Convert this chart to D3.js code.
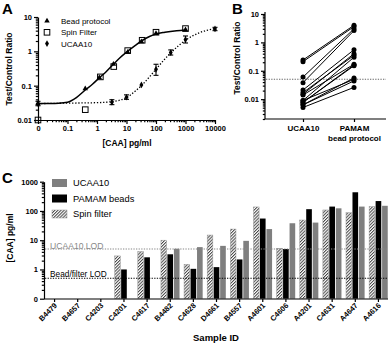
<!DOCTYPE html>
<html>
<head>
<meta charset="utf-8">
<script src="https://cdn.jsdelivr.net/npm/d3@7"></script>
<style>
	body { margin: 0; background: #fff; }
	svg { display: block; font-family: "Liberation Sans", Arial, sans-serif; }
	.axis path, .axis line { stroke: #000; stroke-width: 1.2; }
	.axis text { font-weight: bold; font-size: 7.5px; fill: #000; }
	.title { font-weight: bold; font-size: 8.5px; }
	.panel { font-weight: bold; font-size: 15px; }
</style>
</head>
<body>
<svg id="chart" width="392" height="346"></svg>
<script>
// ---- panel A data ----
const aTicks = [0.01, 0.1, 1, 10, 100, 1000, 10000];
const aTickLabels = ["0", "0.1", "1", "10", "100", "1000", "10000"];
const aYTicks = [0.01, 0.1, 1, 10];
const aYTickLabels = ["0.01", "0.1", "1", "10"];

const beadX = [0, 0.4, 1.2, 3.6, 11, 32, 100, 1000];
const beadY = [0.03, 0.082, 0.17, 0.42, 0.95, 1.9, 3.3, 4.3];
const spinX = [0, 0.4, 1.3, 3.7, 11, 34, 100, 1000];
const spinY = [0, 0.02, 0.18, 0.36, 1.05, 2.1, 3.6, 4.6];
const ucaaX = [0, 3.2, 10, 32, 100, 316, 1000, 10000];
const ucaaY = [0.03, 0.033, 0.046, 0.105, 0.3, 0.92, 2.2, 4.5];
const ucaaLo = [0.026, 0.028, 0.04, 0.105, 0.2, 0.78, 1.75, 4.0];
const ucaaHi = [0.035, 0.039, 0.054, 0.105, 0.42, 1.1, 2.8, 5.0];
// fitted curves
const beadFitX = [0.01, 0.05, 0.1, 0.2, 0.4, 0.7, 1.2, 2, 3.6, 6, 10, 20, 32, 60, 100, 200, 500, 1000];
const beadFitY = [0.03, 0.031, 0.033, 0.045, 0.075, 0.11, 0.17, 0.25, 0.42, 0.65, 0.95, 1.5, 2.0, 2.7, 3.2, 3.6, 4.0, 4.2];
const ucaaFitX = [0.01, 0.1, 1, 3, 10, 20, 32, 60, 100, 200, 316, 600, 1000, 3000, 10000];
const ucaaFitY = [0.03, 0.031, 0.032, 0.034, 0.045, 0.07, 0.1, 0.18, 0.3, 0.6, 0.9, 1.5, 2.1, 3.5, 4.6];
const aLegend = ["Bead protocol", "Spin Filter", "UCAA10"];

// ---- panel B data ----
const bCats = ["UCAA10", "PAMAM"];
const bCatLabels = [["UCAA10"], ["PAMAM", "bead protocol"]];
const bYTicks = [0.01, 0.1, 1, 10];
const bYTickLabels = ["0.01", "0.1", "1", "10"];
const bUcaa = [0.24, 0.21, 0.06, 0.038, 0.021, 0.017, 0.015, 0.014, 0.009, 0.0077, 0.0077, 0.0063, 0.0063, 0.0051, 0.009];
const bPamam = [4.0, 3.6, 3.0, 2.6, 0.55, 0.35, 0.4, 0.17, 0.3, 0.15, 0.16, 0.056, 0.044, 0.026, 0.05];
const bCutoff = 0.05;

// ---- panel C data ----
const samples = ["B4479","B4657","C4203","C4201","C4617","B4482","C4628","D4661","B4557","A4601","C4606","A4201","C4631","A4647","A4616"];
const cSeries = ["Spin filter", "PAMAM beads", "UCAA10"];
const spinVals  = [0, 0, 0, 2.9, 4.1, 10, 1.5, 15, 24, 137, 5.3, 49, 108, 87, 141];
const pamamVals = [0, 0, 0, 1.0, 2.6, 3.3, 1.05, 1.2, 2.2, 55, 5.0, 115, 141, 435, 218];
const ucaaVals  = [0, 0, 0, 0, 0, 5.1, 5.8, 6.4, 9.5, 24, 38, 40, 123, 141, 150];
const cYTicks = [0.1, 1, 10, 100, 1000];
const cYTickLabels = ["0", "1", "10", "100", "1000"];
const lodUcaa = 5;
const lodBead = 0.5;

const svg = d3.select('#chart');
const defs = svg.append('defs');
const pat = defs.append('pattern')
	.attr('id', 'hatch')
	.attr('patternUnits', 'userSpaceOnUse')
	.attr('width', 2.2).attr('height', 2.2)
	.attr('patternTransform', 'rotate(45)');
pat.append('rect').attr('width', 2.2).attr('height', 2.2).attr('fill', '#fff');
pat.append('rect').attr('width', 1).attr('height', 2.2).attr('fill', '#444');

const minorTicks = (lo, hi) => {
	const out = [];
	for (let e = lo; e < hi; e++) for (let m = 2; m < 10; m++) out.push(m * Math.pow(10, e));
	return out;
};

const logAxis = (g, axisFn, scale, majors, labels, minors) => {
	g.append('g').attr('class', 'axis')
		.call(axisFn(scale).tickValues(minors).tickSize(2.2).tickFormat('').tickSizeOuter(0))
		.call(s => s.select('.domain').remove());
	g.append('g').attr('class', 'axis')
		.call(axisFn(scale).tickValues(majors).tickSize(4).tickPadding(2)
			.tickFormat((d, i) => labels[i]).tickSizeOuter(0));
};

const panelLabel = (x, y, t) => svg.append('text').attr('class', 'panel').attr('x', x).attr('y', y).text(t);

// ================= A =================
const xA = d3.scaleLog().domain([0.01, 10000]).range([38, 215]);
const yA = d3.scaleLog().domain([0.01, 10]).range([120, 17]);
const px = v => xA(v || 0.01);
const py = v => yA(v || 0.01);
const gA = svg.append('g');

logAxis(gA.append('g').attr('transform', 'translate(0,120)'), d3.axisBottom, xA, aTicks, aTickLabels, minorTicks(-2, 4));
logAxis(gA.append('g').attr('transform', 'translate(38,0)'), d3.axisLeft, yA, aYTicks, aYTickLabels, minorTicks(-2, 1));

const lineA = d3.line().x(d => px(d[0])).y(d => py(d[1])).curve(d3.curveMonotoneX);
gA.append('path').datum(d3.zip(beadFitX, beadFitY))
	.attr('d', lineA).attr('fill', 'none').attr('stroke', '#000').attr('stroke-width', 1.5);
gA.append('path').datum(d3.zip(ucaaFitX, ucaaFitY))
	.attr('d', lineA).attr('fill', 'none').attr('stroke', '#000').attr('stroke-width', 1.3)
	.attr('stroke-dasharray', '1.3,1.8');

// error bars
const eb = gA.append('g').attr('stroke', '#000').attr('stroke-width', 1.1);
ucaaX.forEach((x, i) => {
	if (ucaaHi[i] === ucaaLo[i]) return;
	const cx = px(x);
	eb.append('line').attr('x1', cx).attr('x2', cx).attr('y1', py(ucaaLo[i])).attr('y2', py(ucaaHi[i]));
	eb.append('line').attr('x1', cx - 2.5).attr('x2', cx + 2.5).attr('y1', py(ucaaLo[i])).attr('y2', py(ucaaLo[i]));
	eb.append('line').attr('x1', cx - 2.5).attr('x2', cx + 2.5).attr('y1', py(ucaaHi[i])).attr('y2', py(ucaaHi[i]));
});

const tri = d3.symbol(d3.symbolTriangle).size(13)();
const dia = d3.symbol(d3.symbolDiamond).size(13)();
gA.selectAll('.tri').data(d3.zip(beadX, beadY)).join('path')
	.attr('d', tri).attr('transform', d => `translate(${px(d[0])},${py(d[1])})`);
gA.selectAll('.sq').data(d3.zip(spinX, spinY)).join('rect')
	.attr('x', d => px(d[0]) - 2.8).attr('y', d => py(d[1]) - 2.8)
	.attr('width', 5.6).attr('height', 5.6)
	.attr('fill', 'none').attr('stroke', '#000').attr('stroke-width', 1);
gA.selectAll('.dia').data(d3.zip(ucaaX, ucaaY)).join('path')
	.attr('d', dia).attr('transform', d => `translate(${px(d[0])},${py(d[1])})`);

// legend A
const legA = gA.append('g').attr('font-size', '8px');
aLegend.forEach((t, i) => {
	const y = 21 + i * 11.3;
	if (i === 0) legA.append('path').attr('d', tri).attr('transform', `translate(47,${y})`);
	if (i === 1) legA.append('rect').attr('x', 44.2).attr('y', y - 2.8).attr('width', 5.6).attr('height', 5.6)
		.attr('fill', 'none').attr('stroke', '#000');
	if (i === 2) legA.append('path').attr('d', dia).attr('transform', `translate(47,${y})`);
	legA.append('text').attr('x', 61).attr('y', y + 3).text(t);
});

gA.append('text').attr('class', 'title').attr('text-anchor', 'middle')
	.attr('x', 127).attr('y', 146).text('[CAA] pg/ml');
gA.append('text').attr('class', 'title').attr('text-anchor', 'middle')
	.attr('transform', 'translate(12,69) rotate(-90)').text('Test/Control Ratio');
panelLabel(2, 14, 'A');

// ================= B =================
const yB = d3.scaleLog().domain([0.002, 10]).range([119, 14]);
const xB = d3.scalePoint().domain(bCats).range([303, 354]);
const gB = svg.append('g');

logAxis(gB.append('g').attr('transform', 'translate(265,0)'), d3.axisLeft, yB, bYTicks, bYTickLabels, minorTicks(-3, 1).filter(v => v >= 0.002));
gB.select('.axis:last-child .domain').attr('d', 'M-0,119V12');
const xAxB = gB.append('g').attr('class', 'axis').attr('transform', 'translate(0,119)')
	.call(d3.axisBottom(xB).tickSize(3).tickPadding(3).tickSizeOuter(0));
xAxB.select('.domain').attr('d', 'M265,0H386');
xAxB.selectAll('text').style('font-size', '8px').each(function(d, i) {
	const el = d3.select(this).text(null);
	bCatLabels[i].forEach((l, j) => el.append('tspan').attr('x', 0).attr('dy', j ? '1.25em' : '0.71em').text(l));
});

gB.append('line').attr('x1', 266).attr('x2', 386).attr('y1', yB(bCutoff)).attr('y2', yB(bCutoff))
	.attr('stroke', '#666').attr('stroke-width', 1.1).attr('stroke-dasharray', '1.3,1.3');

const pairs = d3.zip(bUcaa, bPamam);
gB.selectAll('.pair').data(pairs).join('line')
	.attr('x1', xB(bCats[0])).attr('x2', xB(bCats[1]))
	.attr('y1', d => yB(d[0])).attr('y2', d => yB(d[1]))
	.attr('stroke', '#000').attr('stroke-width', 1);
gB.selectAll('.pu').data(bUcaa).join('circle')
	.attr('cx', xB(bCats[0])).attr('cy', d => yB(d)).attr('r', 2.5);
gB.selectAll('.pp').data(bPamam).join('circle')
	.attr('cx', xB(bCats[1])).attr('cy', d => yB(d)).attr('r', 2.5);

gB.append('text').attr('class', 'title').attr('text-anchor', 'middle')
	.attr('transform', 'translate(240,58) rotate(-90)').text('Test/Control Ratio');
panelLabel(232, 14, 'B');

// ================= C =================
const yC = d3.scaleLog().domain([0.1, 1000]).range([298.7, 181.7]);
const xC = d3.scaleBand().domain(samples).range([43, 390]);
const xIn = d3.scaleBand().domain(cSeries)
	.range([xC.bandwidth() / 2 - 9.3, xC.bandwidth() / 2 + 9.3]).paddingInner(0.13);
const gC = svg.append('g');

const cVals = [spinVals, pamamVals, ucaaVals];
const cFill = ['url(#hatch)', '#000', '#7f7f7f'];
const cStroke = ['#999', 'none', 'none'];
cSeries.forEach((s, k) => {
	gC.append('g').selectAll('rect')
		.data(samples.map((id, i) => ({ id, v: cVals[k][i] })).filter(d => d.v > 0))
		.join('rect')
		.attr('x', d => xC(d.id) + xIn(s))
		.attr('width', xIn.bandwidth())
		.attr('y', d => yC(d.v))
		.attr('height', d => yC(0.1) - yC(d.v))
		.attr('fill', cFill[k]).attr('stroke', cStroke[k]).attr('stroke-width', 0.5);
});

gC.append('line').attr('x1', 45).attr('x2', 388).attr('y1', yC(lodUcaa)).attr('y2', yC(lodUcaa))
	.attr('stroke', '#888').attr('stroke-width', 1.1).attr('stroke-dasharray', '1.3,1.3');
gC.append('line').attr('x1', 45).attr('x2', 388).attr('y1', yC(lodBead)).attr('y2', yC(lodBead))
	.attr('stroke', '#000').attr('stroke-width', 1.1).attr('stroke-dasharray', '1.3,1.3');
gC.append('text').attr('x', 50).attr('y', yC(lodUcaa) - 0.5).attr('font-size', '8.6px')
	.attr('fill', '#888').text('UCAA10 LOD');
gC.append('text').attr('x', 50).attr('y', yC(lodBead) - 1).attr('font-size', '8.3px')
	.attr('fill', '#000').text('Bead/filter LOD');

logAxis(gC.append('g').attr('transform', 'translate(44,0)'), d3.axisLeft, yC, cYTicks, cYTickLabels, minorTicks(-1, 3));
const xAxC = gC.append('g').attr('class', 'axis').attr('transform', 'translate(0,299)')
	.call(d3.axisBottom(xC).tickSize(3).tickSizeOuter(0));
xAxC.select('.domain').attr('d', 'M44,0H388');
xAxC.selectAll('text')
	.attr('text-anchor', 'end')
	.attr('dy', null).attr('y', 0)
	.attr('transform', 'translate(3,7) rotate(-45)');

// legend C
const legC = gC.append('g').attr('font-size', '9.3px');
const legOrder = [2, 1, 0];
legOrder.forEach((k, i) => {
	const y = 183 + i * 15.5;
	legC.append('rect').attr('x', 52).attr('y', y - 4).attr('width', 15).attr('height', 8)
		.attr('fill', cFill[k]).attr('stroke', cStroke[k]).attr('stroke-width', 0.5);
	legC.append('text').attr('x', 73).attr('y', y + 3.3).text(cSeries[k]);
});

gC.append('text').attr('class', 'title').attr('text-anchor', 'middle')
	.attr('transform', 'translate(13,238) rotate(-90)').text('[CAA] pg/ml');
gC.append('text').attr('class', 'title').attr('text-anchor', 'middle').style('font-size', '9.5px')
	.attr('x', 216).attr('y', 341).text('Sample ID');
panelLabel(2, 183, 'C');
</script>
</body>
</html>
